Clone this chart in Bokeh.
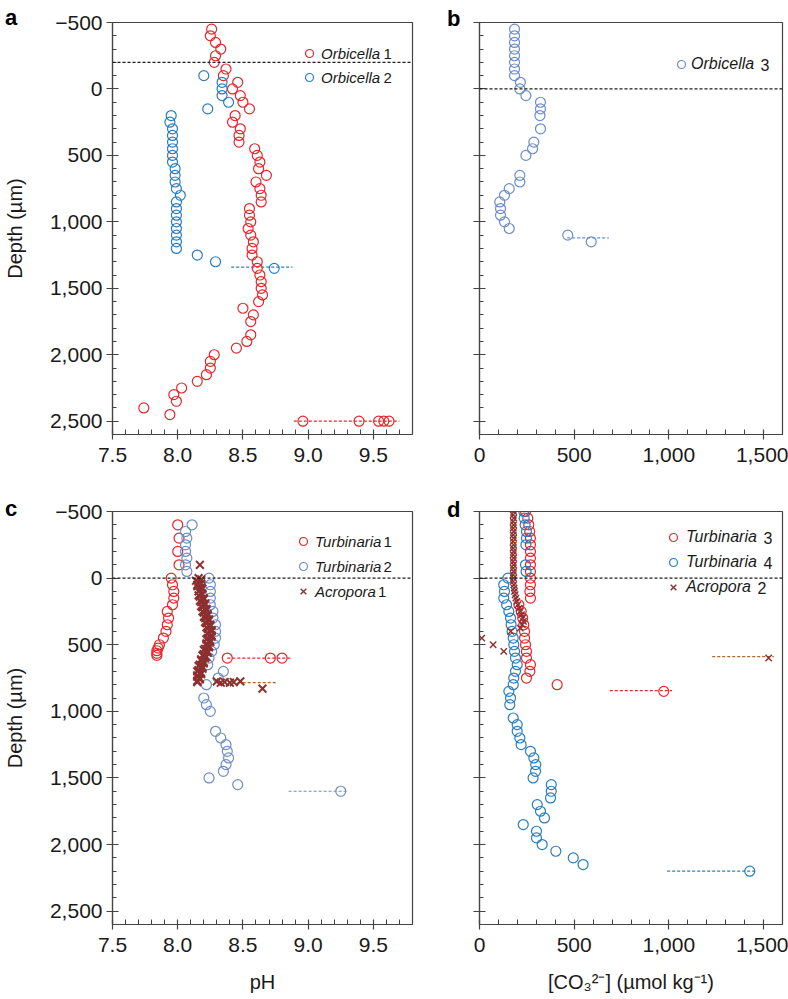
from bokeh.plotting import figure
from bokeh.models import Range1d, FixedTicker, Span, Legend, LegendItem, Label, Div
from bokeh.layouts import column, row
from bokeh.core.properties import value
from bokeh.embed import file_html
from bokeh.resources import INLINE

FONT = "Liberation Sans"
RED = "#e5262b"
BLUE = "#2a7dc0"
LBLUE = "#6d8dc9"
BROWN = "#8e2f2f"
BROWN_LINE = "#b0652a"
AXC = "#444444"
NAN = float("nan")

# ---------------- ticks ----------------
depth_ticks = [-500, 0, 500, 1000, 1500, 2000, 2500]
depth_tick_labels = ["\u2212500", "0", "500", "1,000", "1,500", "2,000", "2,500"]
depth_minor = [-400, -300, -200, -100, 100, 200, 300, 400, 600, 700, 800, 900, 1100, 1200, 1300,
               1400, 1600, 1700, 1800, 1900, 2100, 2200, 2300, 2400, 2600]
ph_ticks = [7.5, 8.0, 8.5, 9.0, 9.5]
ph_tick_labels = ["7.5", "8.0", "8.5", "9.0", "9.5"]
ph_minor = [7.6, 7.7, 7.8, 7.9, 8.1, 8.2, 8.3, 8.4, 8.6, 8.7, 8.8, 8.9, 9.1, 9.2, 9.3, 9.4, 9.6, 9.7]
co3_ticks = [0, 500, 1000, 1500]
co3_tick_labels = ["0", "500", "1,000", "1,500"]
co3_minor = [100, 200, 300, 400, 600, 700, 800, 900, 1100, 1200, 1300, 1400, 1600]

# ---------------- panel a ----------------
orb1_depth = [-450, -400, -350, -300, -250, -200, -150, -100, -50, 0, 50, 100, 150, 200, 250, 300, 350, 400,
              450, 500, 550, 600, 650, 700, 750, 800, 850, 900, 950, 1000, 1050, 1100, 1150, 1200, 1250,
              1300, 1350, 1400, 1450, 1500, 1550, 1600, 1650, 1700, 1750, 1850, 1900, 1950, 2000, 2050,
              2100, 2150, 2200, 2250, 2300, 2350, 2400, 2450, 2500, 2500, 2500, 2500, 2500]
orb1_ph = [8.26, 8.25, 8.29, 8.33, 8.29, 8.28, 8.37, 8.35, 8.46, 8.42, 8.48, 8.50, 8.55, 8.44, 8.42, 8.48,
           8.47, 8.47, 8.59, 8.61, 8.63, 8.62, 8.68, 8.60, 8.63, 8.64, 8.64, 8.55, 8.55, 8.56, 8.54, 8.56,
           8.58, 8.57, 8.57, 8.61, 8.61, 8.63, 8.64, 8.64, 8.65, 8.62, 8.50, 8.58, 8.56, 8.56, 8.53, 8.45,
           8.28, 8.25, 8.25, 8.22, 8.15, 8.03, 7.97, 7.99, 7.74, 7.94, 8.96, 9.39, 9.54, 9.58, 9.62]
orb1_err_depth = [2500]
orb1_err_lo = [8.89]
orb1_err_hi = [9.70]

orb2_depth = [-100, -50, 0, 50, 100, 150, 200, 250, 300, 350, 400, 450, 500, 550, 600, 650, 700, 750,
              800, 850, 900, 950, 1000, 1050, 1100, 1150, 1200, 1250, 1300, 1350]
orb2_ph = [8.20, 8.34, 8.34, 8.34, 8.39, 8.23, 7.95, 7.94, 7.96, 7.96, 7.96, 7.96, 7.96, 7.96, 7.98,
           7.98, 7.98, 7.99, 8.02, 7.99, 7.99, 7.99, 7.99, 7.99, 7.99, 7.99, 7.99, 8.15, 8.29, 8.74]
orb2_err_depth = [1340]
orb2_err_lo = [8.41]
orb2_err_hi = [8.88]

# ---------------- panel b ----------------
orb3_depth = [-450, -400, -350, -300, -250, -200, -150, -100, -50, 0, 50, 100, 150, 200, 300, 400, 450,
              500, 650, 700, 750, 800, 850, 900, 950, 1000, 1050, 1100, 1150]
orb3_co3 = [185, 185, 185, 185, 185, 185, 185, 185, 216, 213, 245, 322, 322, 319, 322, 287, 280, 245,
            213, 213, 157, 132, 107, 111, 111, 132, 157, 466, 590]
orb3_err_depth = [1120]
orb3_err_lo = [463]
orb3_err_hi = [683]

# ---------------- panel c ----------------
turb1_depth = [-400, -300, -200, -100, 0, 50, 100, 150, 200, 250, 300, 350, 400, 450, 500, 525, 545,
               565, 580, 600, 600, 600]
turb1_ph = [8.00, 8.01, 8.00, 8.01, 7.95, 7.96, 7.97, 7.97, 7.96, 7.92, 7.93, 7.92, 7.91, 7.89, 7.86,
            7.85, 7.84, 7.84, 7.84, 8.38, 8.71, 8.80]
turb1_err_depth = [600]
turb1_err_lo = [8.38]
turb1_err_hi = [8.87]

turb2_depth = [-400, -350, -300, -250, -200, -150, -100, -50, 0, 50, 100, 150, 200, 250, 300, 350, 400,
               450, 500, 550, 600, 650, 700, 750, 800, 900, 950, 1000, 1150, 1200, 1250, 1300, 1350,
               1400, 1450, 1500, 1550, 1600]
turb2_ph = [8.11, 8.06, 8.07, 8.06, 8.06, 8.07, 8.06, 8.07, 8.24, 8.25, 8.25, 8.25, 8.25, 8.27, 8.27,
            8.29, 8.29, 8.29, 8.28, 8.26, 8.24, 8.23, 8.35, 8.31, 8.22, 8.20, 8.22, 8.25, 8.29, 8.33,
            8.37, 8.38, 8.39, 8.37, 8.35, 8.24, 8.46, 9.25]
turb2_err_depth = [1600]
turb2_err_lo = [8.85]
turb2_err_hi = [9.31]

acro1_depth = [-100,
               0, 10, 20, 30, 40, 50, 60, 70, 80, 90, 100, 110, 120, 130, 140, 150, 160, 170, 180, 190,
               200, 210, 220, 230, 240, 250, 260, 270, 280, 290, 300, 310, 320, 330, 340, 350, 360, 370,
               380, 390, 400, 410, 420, 430, 440, 450, 460, 470, 480, 490, 500, 510, 520, 530, 540, 550,
               560, 570, 580, 590, 600, 610, 620, 630, 640, 650, 660, 670, 680, 690, 700, 710, 720, 730,
               740, 750, 760, 770, 780,
               775, 785, 780, 785, 780, 775, 830]
acro1_ph = [8.17,
            8.16, 8.18, 8.14, 8.16, 8.18, 8.15, 8.15, 8.18, 8.19, 8.17, 8.16, 8.18, 8.19, 8.16, 8.17,
            8.20, 8.20, 8.17, 8.18, 8.21, 8.21, 8.18, 8.19, 8.22, 8.22, 8.19, 8.20, 8.23, 8.23, 8.20,
            8.21, 8.24, 8.24, 8.21, 8.22, 8.25, 8.25, 8.22, 8.23, 8.26, 8.26, 8.23, 8.23, 8.26, 8.26,
            8.23, 8.22, 8.25, 8.25, 8.22, 8.22, 8.24, 8.24, 8.21, 8.20, 8.23, 8.23, 8.20, 8.19, 8.22,
            8.21, 8.18, 8.18, 8.20, 8.20, 8.17, 8.16, 8.19, 8.19, 8.16, 8.15, 8.18, 8.18, 8.15, 8.15,
            8.17, 8.17, 8.15, 8.15,
            8.30, 8.33, 8.36, 8.40, 8.43, 8.48, 8.65]
acro1_err_depth = [785]
acro1_err_lo = [8.46]
acro1_err_hi = [8.76]

# ---------------- panel d ----------------
turb3_depth = [-500, -450, -400, -350, -300, -250, -200, -150, -100, -50, 0, 50, 100, 150, 200, 250,
               300, 350, 400, 450, 500, 550, 600, 650, 700, 750, 800, 850]
turb3_co3 = [243, 255, 260, 265, 269, 269, 269, 269, 269, 269, 269, 269, 266, 269, 208, 220, 228, 234,
             238, 238, 243, 248, 248, 269, 266, 248, 410, 973]
turb3_err_depth = [845]
turb3_err_lo = [688]
turb3_err_hi = [1017]

turb4_depth = [-500, -450, -400, -350, -300, -250, -100, -50, 0, 50, 100, 150, 200, 250, 300, 350, 400,
               450, 500, 550, 600, 650, 700, 750, 800, 850, 900, 950, 1050, 1100, 1150, 1200, 1250,
               1300, 1350, 1400, 1450, 1500, 1550, 1600, 1650, 1700, 1750, 1800, 1850, 1900, 1950,
               2000, 2050, 2100, 2150, 2200]
turb4_co3 = [234, 236, 241, 248, 248, 245, 243, 246, 150, 128, 132, 128, 143, 155, 164, 167, 172, 178,
             181, 185, 190, 199, 190, 181, 178, 155, 164, 160, 178, 199, 199, 213, 220, 269, 287, 297,
             296, 283, 379, 379, 375, 305, 322, 343, 231, 301, 301, 331, 403, 495, 547, 1427]
turb4_err_depth = [2200]
turb4_err_lo = [991]
turb4_err_hi = [1462]

acro2_depth = [-500, -475, -450, -425, -400, -375, -350, -325, -300, -275, -250, -225, -200, -175, -150,
               -125, -100, -75, -50, -25, 0, 25, 50, 75, 100, 125, 150, 175, 200, 225, 250, 275, 300,
               325, 350, 375, 400, 450, 500, 550, 600]
acro2_co3 = [181, 178, 181, 178, 180, 178, 180, 178, 180, 178, 180, 178, 180, 178, 180, 178, 180, 178,
             180, 178, 180, 178, 181, 183, 185, 188, 192, 197, 203, 210, 216, 222, 228, 232, 226, 215,
             165, 12, 72, 128, 1527]
acro2_err_depth = [590]
acro2_err_lo = [1229]
acro2_err_hi = [1554]

# frame geometry on the page (left, top, width, height, x0, x1)
FR = {"a": (107, 22, 305, 412, 7.5, 9.8), "b": (479, 22, 303, 412, 0, 1600),
      "c": (107, 511, 305, 413, 7.5, 9.8), "d": (479, 511, 303, 413, 0, 1600)}


def at(key, px, py):
    l, t, w, h, x0, x1 = FR[key]
    return x0 + (px - l) / w * (x1 - x0), -500 + (py - t) / h * 3100


def make_fig(key, width, height, mbl, mbr, mbt, mbb, ph, ylabels):
    l, t, w, h, x0, x1 = FR[key]
    p = figure(width=width, height=height, x_range=Range1d(x0, x1), y_range=Range1d(2600, -500),
               min_border_left=mbl, min_border_right=mbr, min_border_top=mbt, min_border_bottom=mbb,
               output_backend="svg", toolbar_location=None)
    p.grid.visible = False
    p.outline_line_color = AXC
    p.outline_line_width = 1.2
    xa = p.xaxis[0]
    ya = p.yaxis[0]
    if ph:
        xa.ticker = FixedTicker(ticks=ph_ticks, minor_ticks=ph_minor)
        xa.major_label_overrides = dict(zip(ph_ticks, ph_tick_labels))
    else:
        xa.ticker = FixedTicker(ticks=co3_ticks, minor_ticks=co3_minor)
        xa.major_label_overrides = dict(zip(co3_ticks, co3_tick_labels))
    ya.ticker = FixedTicker(ticks=depth_ticks, minor_ticks=depth_minor)
    if ylabels:
        ya.major_label_overrides = dict(zip(depth_ticks, depth_tick_labels))
    else:
        ya.major_label_overrides = {k: "" for k in depth_ticks}
    for ax in (xa, ya):
        ax.axis_line_color = AXC
        ax.axis_line_width = 1.2
        ax.major_tick_line_color = AXC
        ax.minor_tick_line_color = AXC
        ax.major_tick_line_width = 1.2
        ax.minor_tick_line_width = 1.0
        ax.major_label_text_font = FONT
        ax.major_label_text_font_size = "21px"
        ax.major_label_text_color = "#1a1a1a"
        ax.axis_label_text_font = FONT
        ax.axis_label_text_font_style = "normal"
        ax.axis_label_text_font_size = "20px"
        ax.axis_label_text_color = "#1a1a1a"
    xa.major_tick_in = 5
    xa.major_tick_out = 5
    xa.minor_tick_in = 5
    xa.minor_tick_out = 0
    xa.major_label_standoff = 8
    ya.major_tick_in = 6
    ya.major_tick_out = 6
    ya.minor_tick_in = 4
    ya.minor_tick_out = 0
    ya.major_label_standoff = 4
    ya.axis_label_standoff = 21
    return p


def circles(p, x, y, color, size=10):
    return p.scatter(x, y, marker="circle", size=size, fill_color=None, line_color=color, line_width=1.2)


def crosses(p, x, y, color, size=9, lw=1.4):
    return p.scatter(x, y, marker="x", size=size, line_color=color, line_width=lw)


def err(p, lo, hi, d, color):
    p.segment(x0=lo, y0=d, x1=hi, y1=d, line_color=color, line_dash="3 2", line_width=1.2)


def dash_line(p, loc):
    p.add_layout(Span(location=loc, dimension="width", line_color="#1a1a1a", line_dash="3 2",
                      line_width=1.2))


def legend(p, key, entries, vx, vy, spacing, standoff, fsize, num_x, rows_y):
    items = []
    for (label, num, marker, color) in entries:
        if marker == "circle":
            r = p.scatter([NAN], [NAN], marker="circle", size=8, fill_color=None, line_color=color,
                          line_width=1.2)
        else:
            r = p.scatter([NAN], [NAN], marker="x", size=9, line_color=color, line_width=1.4)
        items.append(LegendItem(label=value(label), renderers=[r]))
    lg = Legend(items=items, location=(vx, vy), orientation="vertical", padding=0, margin=0,
                spacing=spacing, glyph_width=20, glyph_height=20, label_height=20,
                label_standoff=standoff, label_text_font=FONT, label_text_font_style="italic",
                label_text_font_size=fsize, label_text_color="#1a1a1a", border_line_color=None,
                background_fill_alpha=0)
    p.add_layout(lg)
    for (label, num, marker, color), (nx, ry) in zip(entries, zip(num_x, rows_y)):
        x, y = at(key, nx, ry)
        p.add_layout(Label(x=x, y=y, text=num, text_font=FONT, text_font_size=fsize,
                           text_baseline="middle", text_align="left", text_color="#1a1a1a"))


def letter_div(txt, left, top):
    return Div(text=txt, width=20, height=24,
               styles={"position": "absolute", "left": f"{left}px", "top": f"{top}px",
                       "font-family": FONT, "font-size": "22px", "font-weight": "bold",
                       "line-height": "22px", "color": "#000000", "z-index": "10"})


# ---- a
pa = make_fig("a", 440, 488, 107, 28, 22, 54, True, True)
pa.yaxis[0].axis_label = "Depth (\u00b5m)"
dash_line(pa, -200)
err(pa, orb1_err_lo, orb1_err_hi, orb1_err_depth, RED)
err(pa, orb2_err_lo, orb2_err_hi, orb2_err_depth, BLUE)
circles(pa, orb1_ph, orb1_depth, RED)
circles(pa, orb2_ph, orb2_depth, BLUE)
legend(pa, "a", [("Orbicella", "1", "circle", RED), ("Orbicella", "2", "circle", BLUE)],
       187, 347, 4, 2, "15px", [382.5, 382.5], [53, 77])

# ---- b
pb = make_fig("b", 348, 488, 39, 6, 22, 54, False, False)
dash_line(pb, 0)
err(pb, orb3_err_lo, orb3_err_hi, orb3_err_depth, LBLUE)
circles(pb, orb3_co3, orb3_depth, LBLUE)
legend(pb, "b", [("Orbicella", "3", "circle", LBLUE)], 192, 360, 4, 0, "16px", [760.0], [64])

# ---- c
pc = make_fig("c", 440, 511, 107, 28, 23, 75, True, True)
pc.yaxis[0].axis_label = "Depth (\u00b5m)"
pc.xaxis[0].axis_label = "pH"
pc.xaxis[0].axis_label_standoff = 16
dash_line(pc, 0)
err(pc, turb1_err_lo, turb1_err_hi, turb1_err_depth, RED)
err(pc, turb2_err_lo, turb2_err_hi, turb2_err_depth, LBLUE)
err(pc, acro1_err_lo, acro1_err_hi, acro1_err_depth, BROWN_LINE)
circles(pc, turb1_ph, turb1_depth, RED)
circles(pc, turb2_ph, turb2_depth, LBLUE)
crosses(pc, acro1_ph, acro1_depth, BROWN, 11, 2.0)
legend(pc, "c", [("Turbinaria", "1", "circle", RED), ("Turbinaria", "2", "circle", LBLUE),
                 ("Acropora", "1", "x", BROWN)],
       181, 323, 5, 2, "15px", [382.5, 382.5, 377.0], [541, 566, 591])

# ---- d
pd_ = make_fig("d", 348, 511, 39, 6, 23, 75, False, False)
pd_.xaxis[0].axis_label = "[CO\u2083\u00b2\u207b] (\u00b5mol kg\u207b\u00b9)"
pd_.xaxis[0].axis_label_standoff = 16
dash_line(pd_, 0)
err(pd_, turb3_err_lo, turb3_err_hi, turb3_err_depth, RED)
err(pd_, turb4_err_lo, turb4_err_hi, turb4_err_depth, BLUE)
err(pd_, acro2_err_lo, acro2_err_hi, acro2_err_depth, BROWN_LINE)
circles(pd_, turb3_co3, turb3_depth, RED)
circles(pd_, turb4_co3, turb4_depth, BLUE)
crosses(pd_, acro2_co3, acro2_depth, BROWN, 9, 1.4)
legend(pd_, "d", [("Turbinaria", "3", "circle", RED), ("Turbinaria", "4", "circle", BLUE),
                  ("Acropora", "2", "x", BROWN)],
       184, 327, 5, 3, "16px", [763.0, 763.0, 757.0], [537, 562, 587])

layout = column(row(pa, pb), row(pc, pd_),
                letter_div("a", 0, 2), letter_div("b", 442, 3),
                letter_div("c", 0, 493), letter_div("d", 442, 494))
open("out.html", "w").write(file_html(layout, INLINE))
